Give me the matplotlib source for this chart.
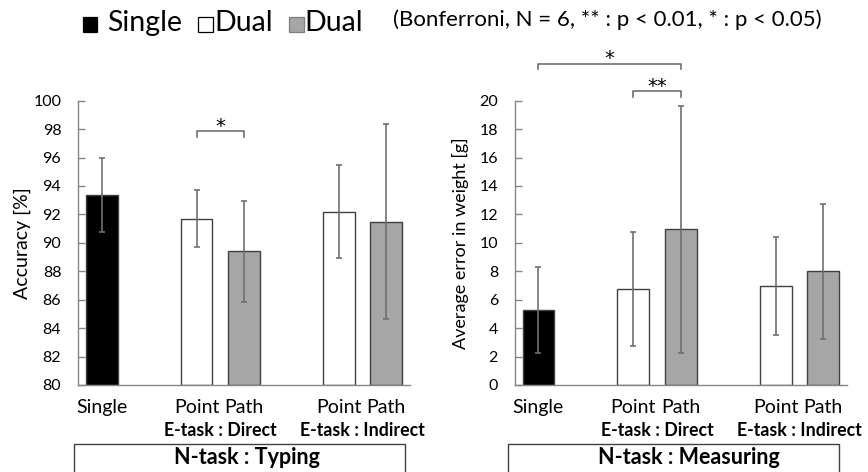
import matplotlib
matplotlib.use("Agg")
import matplotlib.pyplot as plt
from matplotlib.patches import Rectangle
from matplotlib.transforms import blended_transform_factory

plt.rcParams['font.family'] = ['Lato', 'DejaVu Sans']

# ---- data ----
positions = [0, 2, 3, 5, 6]
tick_labels = ["Single", "Point", "Path", "Point", "Path"]
group_labels = ["E-task : Direct", "E-task : Indirect"]
group_centers = [2.5, 5.5]
bar_colors = ["#000000", "#ffffff", "#a6a6a6", "#ffffff", "#a6a6a6"]

typing_mean = [93.35, 91.7, 89.4, 92.2, 91.5]
typing_err = [2.6, 2.0, 3.55, 3.3, 6.85]

measuring_mean = [5.28, 6.73, 10.95, 6.95, 8.0]
measuring_err = [3.0, 4.0, 8.7, 3.43, 4.73]

W, H = 868, 472
fig = plt.figure(figsize=(W / 100, H / 100), dpi=100)

def fx(px):
    return px / W

def fy(py):
    return 1 - py / H

ax1 = fig.add_axes([fx(78), fy(385), fx(410) - fx(78), fy(100.7) - fy(385)])
ax2 = fig.add_axes([fx(514.7), fy(385), fx(847) - fx(514.7), fy(100.7) - fy(385)])

spine_c = "#868686"
err_c = "#6f6f6f"

def style(ax, means, errs, ylim, yticks, ylabel, ylab_size, box_text, box_x0, box_x1,
          box_text_x, ylab_x):
    ax.bar(positions, [m - ylim[0] for m in means], bottom=ylim[0], width=0.67,
           color=bar_colors, edgecolor="#404040", linewidth=1.0, zorder=2)
    ax.errorbar(positions, means, yerr=errs, fmt="none", ecolor=err_c,
                elinewidth=1.2, capsize=2.5, capthick=1.2, zorder=3)
    ax.set_xlim(-0.5, 6.5)
    ax.set_ylim(*ylim)
    ax.set_yticks(yticks)
    ax.set_yticklabels([str(t) for t in yticks], fontsize=11.5)
    ax.set_xticks(positions)
    ax.set_xticklabels(tick_labels, fontsize=14)
    ax.tick_params(axis="x", length=0, pad=10)
    ax.tick_params(axis="y", direction="in", length=5, width=1, color=spine_c, pad=12)
    for s in ["top", "right"]:
        ax.spines[s].set_visible(False)
    for s in ["left", "bottom"]:
        ax.spines[s].set_color(spine_c)
        ax.spines[s].set_linewidth(1.0)
    ax.set_ylabel(ylabel, fontsize=ylab_size)
    ax.yaxis.set_label_coords(ylab_x, 0.5)
    tr = blended_transform_factory(ax.transData, fig.transFigure)
    for gx, gl in zip(group_centers, group_labels):
        ax.text(gx, fy(430), gl, transform=tr, ha="center", va="center",
                fontsize=12.8, fontweight="bold")
    rect = Rectangle((fx(box_x0), fy(490)), fx(box_x1) - fx(box_x0), fy(444) - fy(490),
                     transform=fig.transFigure, fill=False, edgecolor="#404040",
                     linewidth=1.0, clip_on=False)
    fig.add_artist(rect)
    fig.text(fx(box_text_x), fy(458), box_text, ha="center", va="center",
             fontsize=15.5, fontweight="bold")

style(ax1, typing_mean, typing_err, (80, 100), list(range(80, 101, 2)),
      "Accuracy [%]", 14, "N-task : Typing", 74, 405, 247, -0.143)
style(ax2, measuring_mean, measuring_err, (0, 20), list(range(0, 21, 2)),
      "Average error in weight [g]", 13, "N-task : Measuring", 508, 839, 689, -0.137)

br_c = "#6f6f6f"

def bracket(ax, x0, x1, y, drop, label, label_y):
    ax.plot([x0, x0, x1, x1], [y - drop, y, y, y - drop], color=br_c, lw=1.2,
            clip_on=False, zorder=4)
    ax.text((x0 + x1) / 2, label_y, label, ha="center", va="baseline", fontsize=14,
            family="DejaVu Sans", clip_on=False)

bracket(ax1, 2, 3, 97.9, 0.42, "*", 97.77)
bracket(ax2, 2, 3, 20.67, 0.4, "**", 20.6)
bracket(ax2, 0, 3, 22.6, 0.4, "*", 22.55)

# ---- top legend ----
leg_squares = [(82.7, "#000000"), (198, "#ffffff"), (289, "#a6a6a6")]
for x0, c in leg_squares:
    fig.add_artist(Rectangle((fx(x0), fy(31.5)), fx(14.5), fy(17) - fy(31.5),
                             transform=fig.transFigure, facecolor=c,
                             edgecolor="#000000" if c != "#a6a6a6" else "#7f7f7f",
                             linewidth=0.9))
fig.text(fx(106.7), fy(23), "Single", fontsize=20.5, va="center", ha="left")
fig.text(fx(214), fy(23), "Dual", fontsize=20.5, va="center", ha="left")
fig.text(fx(304), fy(23), "Dual", fontsize=20.5, va="center", ha="left")
fig.text(fx(393), fy(20), "(Bonferroni, N = 6, ** : p < 0.01, * : p < 0.05)",
         fontsize=16, va="center", ha="left")

fig.savefig("out.png", dpi=100)
